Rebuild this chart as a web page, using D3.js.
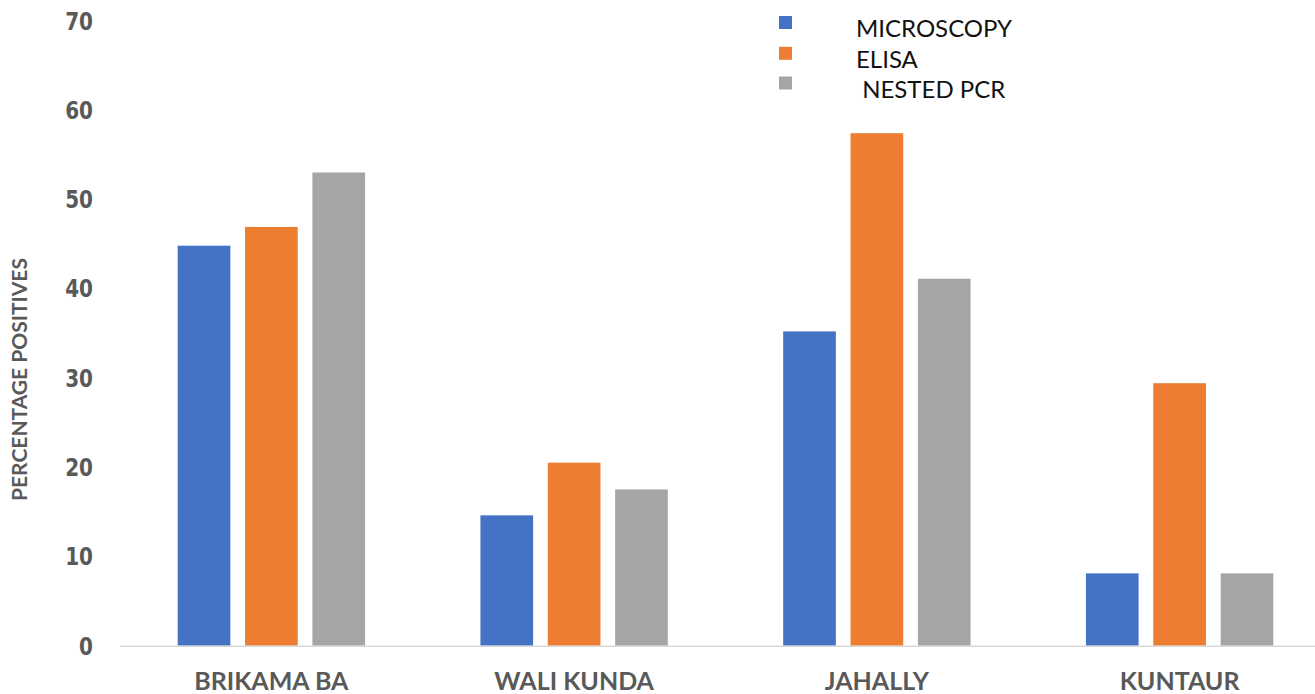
<!DOCTYPE html>
<html>
<head>
<meta charset="utf-8">
<script src="https://cdn.jsdelivr.net/npm/d3@7/dist/d3.min.js"></script>
<style>
  html, body { margin: 0; padding: 0; background: #fff; }
  svg { display: block; }
</style>
</head>
<body>
<svg id="chart" width="1315" height="694"></svg>
<script>
// Sites sampled and the percentage of positives found by each method
const sites = ["BRIKAMA BA", "WALI KUNDA", "JAHALLY", "KUNTAUR"];
const methods = ["MICROSCOPY", "ELISA", "NESTED PCR"];
const legendLabels = ["MICROSCOPY", "ELISA", " NESTED PCR"];
const microscopy = [44.8, 14.6, 35.2, 8.1];
const elisa = [46.9, 20.5, 57.4, 29.4];
const nestedPcr = [53.0, 17.5, 41.1, 8.1];
const yTicks = [0, 10, 20, 30, 40, 50, 60, 70];
const colors = ["#4472C4", "#ED7D31", "#A5A5A5"];

const seriesValues = [microscopy, elisa, nestedPcr];
const rows = sites.flatMap((site, i) =>
  methods.map((m, j) => ({ site, method: m, value: seriesValues[j][i] }))
);

const W = 1315, H = 694;
const svg = d3.select("#chart");

const plotLeft = 120, plotRight = 1331, plotBottom = 645.7, plotTop = 20.7;

const x = d3.scaleBand().domain(sites).range([plotLeft, plotRight]).padding(0);
const y = d3.scaleLinear().domain([0, 70]).range([plotBottom, plotTop]);

// bar layout inside each category: three bars with gaps between them
const step = x.bandwidth();
const barW = step * 0.174;
const gapW = step * 0.0485;
const groupW = 3 * barW + 2 * gapW;
const xm = d3.scaleOrdinal().domain(methods)
  .range(methods.map((_, j) => (step - groupW) / 2 + j * (barW + gapW)));
const color = d3.scaleOrdinal().domain(methods).range(colors);

// bars
svg.append("g")
  .selectAll("rect")
  .data(rows)
  .join("rect")
  .attr("x", d => x(d.site) + xm(d.method))
  .attr("y", d => y(d.value))
  .attr("width", barW)
  .attr("height", d => y(0) - y(d.value))
  .attr("fill", d => color(d.method));

// category axis line
svg.append("line")
  .attr("x1", plotLeft).attr("x2", W)
  .attr("y1", y(0) + 0.5).attr("y2", y(0) + 0.5)
  .attr("stroke", "#d9d9d9").attr("stroke-width", 1.5);

// y tick labels (tall, condensed numerals)
svg.append("g")
  .selectAll("text")
  .data(yTicks)
  .join("text")
  .attr("transform", d => `translate(93,${y(d)}) scale(1,1.23)`)
  .attr("dy", "0.36em")
  .attr("text-anchor", "end")
  .attr("font-family", "DejaVu Sans")
  .attr("font-weight", "bold")
  .attr("font-size", 20)
  .attr("fill", "#595959")
  .text(d => d);

// category labels
svg.append("g")
  .selectAll("text")
  .data(sites)
  .join("text")
  .attr("x", d => x(d) + step / 2)
  .attr("y", 690)
  .attr("text-anchor", "middle")
  .attr("font-family", "Lato")
  .attr("font-weight", "bold")
  .attr("font-size", 25)
  .attr("fill", "#595959")
  .text(d => d);

// y axis title
svg.append("text")
  .attr("transform", `translate(27,${379.5}) rotate(-90)`)
  .attr("text-anchor", "middle")
  .attr("font-family", "Lato")
  .attr("font-weight", "bold")
  .attr("font-size", 21)
  .attr("fill", "#595959")
  .text("PERCENTAGE POSITIVES");

// legend
const legend = svg.append("g");
const legendY = [22.5, 53.3, 83];
legend.selectAll("rect")
  .data(methods)
  .join("rect")
  .attr("x", 779)
  .attr("y", (d, i) => legendY[i] - 6.5)
  .attr("width", 13)
  .attr("height", 13)
  .attr("fill", d => color(d));
legend.selectAll("text")
  .data(legendLabels)
  .join("text")
  .attr("x", 856)
  .attr("y", (d, i) => legendY[i] + 14.5)
  .attr("font-family", "Lato")
  .attr("font-size", 24)
  .attr("fill", "#111")
  .attr("xml:space", "preserve")
  .style("white-space", "pre")
  .text(d => d);
</script>
</body>
</html>
